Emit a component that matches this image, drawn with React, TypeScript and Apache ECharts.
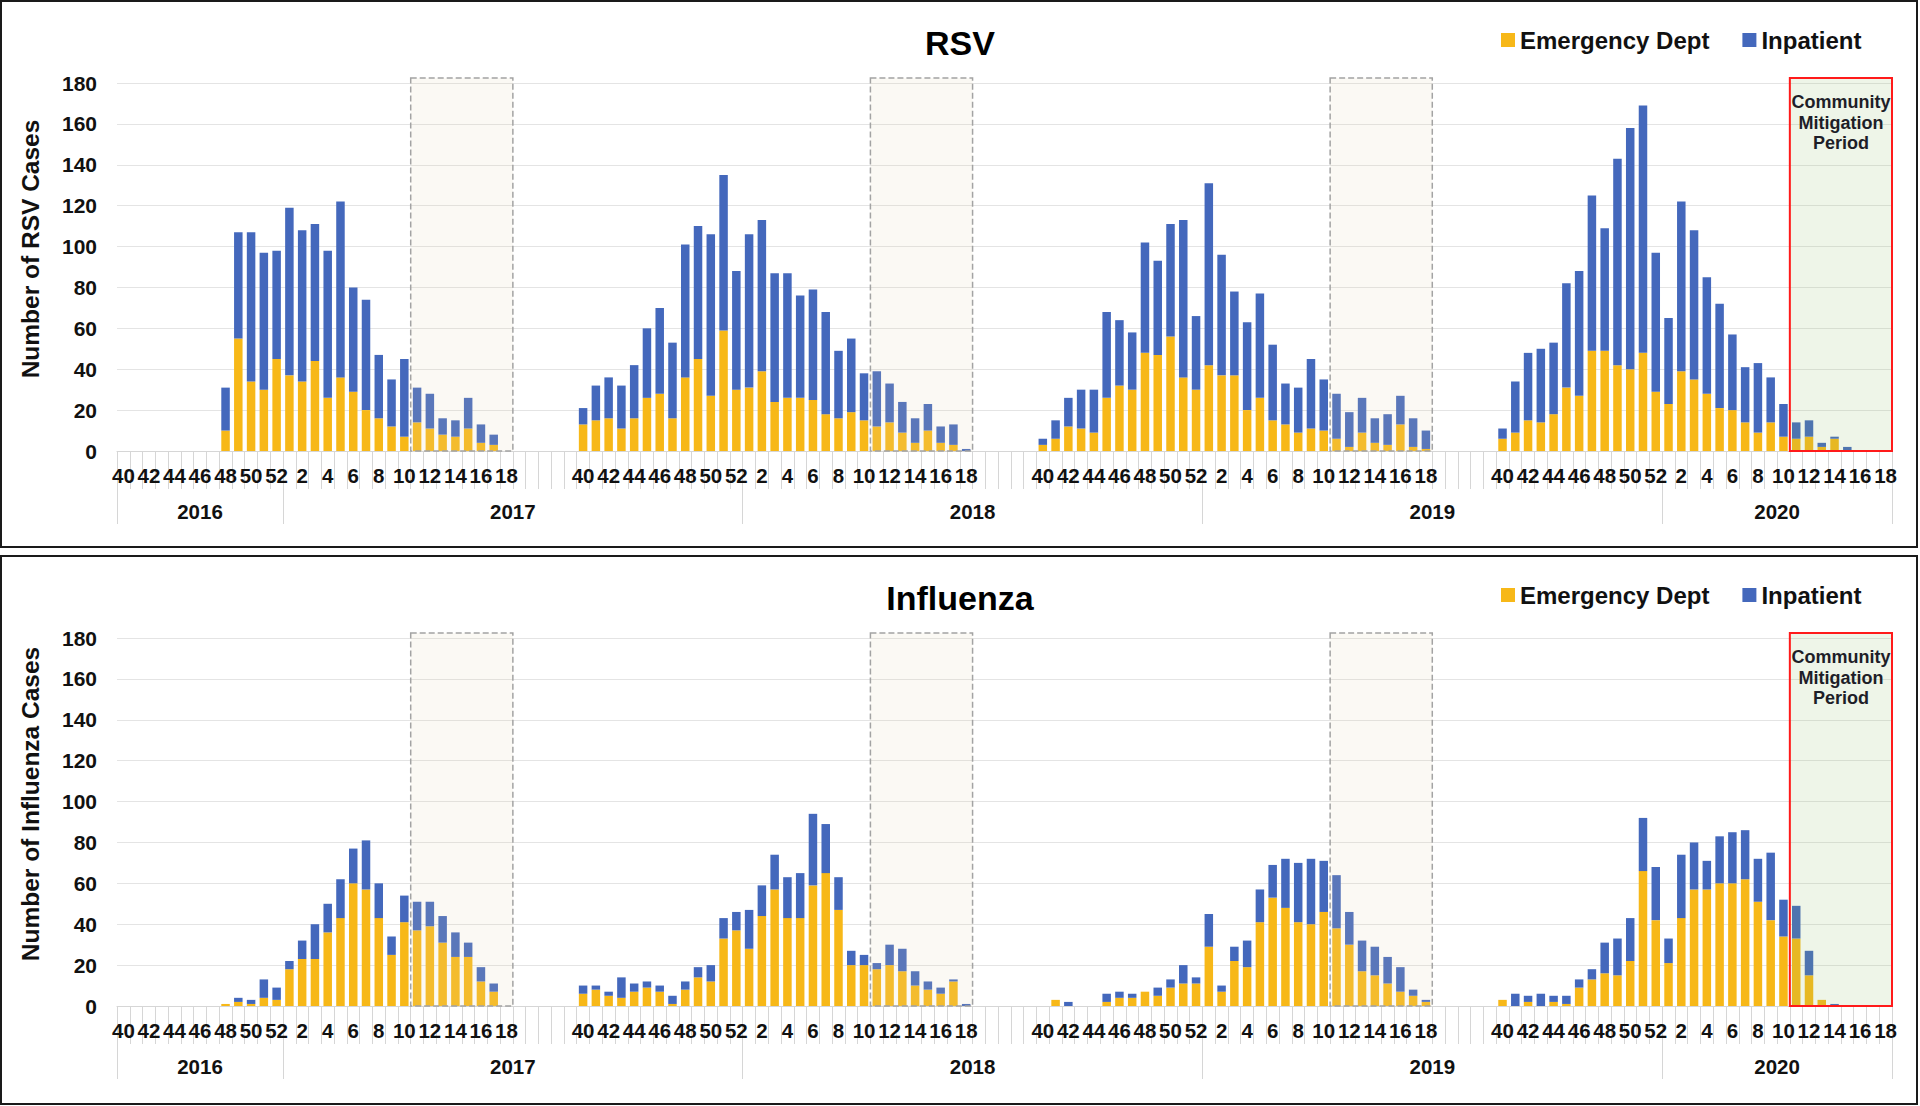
import React, { useEffect, useRef } from "react";
import * as echarts from "echarts";

const FONT = '"Liberation Sans", Arial, Helvetica, sans-serif';

// Surveillance weeks of one season (week 40 through week 18)
const seasonWeeks = [40, 41, 42, 43, 44, 45, 46, 47, 48, 49, 50, 51, 52, 1, 2, 3, 4, 5, 6, 7, 8, 9, 10, 11, 12, 13, 14, 15, 16, 17, 18];
const gapLength = 5; // empty categories between seasons
const yearLabels = ["2016", "2017", "2018", "2019", "2020"];
const seriesNames = ["Emergency Dept", "Inpatient"];
const panelTitles = ["RSV", "Influenza"];
const yAxisTitles = ["Number of RSV Cases", "Number of Influenza Cases"];
const shadedWeeks = [11, 18]; // dashed / mitigation boxes cover weeks 11-18
const mitigationText = "Community\nMitigation\nPeriod";

// RSV
const rsvED_2016_17 = [0, 0, 0, 0, 0, 0, 0, 0, 10, 55, 34, 30, 45, 37, 34, 44, 26, 36, 29, 20, 16, 12, 7, 14, 11, 8, 7, 11, 4, 3, 0];
const rsvIP_2016_17 = [0, 0, 0, 0, 0, 0, 0, 0, 21, 52, 73, 67, 53, 82, 74, 67, 72, 86, 51, 54, 31, 23, 38, 17, 17, 8, 8, 15, 9, 5, 0];
const rsvED_2017_18 = [13, 15, 16, 11, 16, 26, 28, 16, 36, 45, 27, 59, 30, 31, 39, 24, 26, 26, 25, 18, 16, 19, 15, 12, 14, 9, 4, 10, 4, 3, 0];
const rsvIP_2017_18 = [8, 17, 20, 21, 26, 34, 42, 37, 65, 65, 79, 76, 58, 75, 74, 63, 61, 50, 54, 50, 33, 36, 23, 27, 19, 15, 12, 13, 8, 10, 1];
const rsvED_2018_19 = [3, 6, 12, 11, 9, 26, 32, 30, 48, 47, 56, 36, 30, 42, 37, 37, 20, 26, 15, 13, 9, 11, 10, 6, 2, 9, 4, 3, 13, 2, 1];
const rsvIP_2018_19 = [3, 9, 14, 19, 21, 42, 32, 28, 54, 46, 55, 77, 36, 89, 59, 41, 43, 51, 37, 20, 22, 34, 25, 22, 17, 17, 12, 15, 14, 14, 9];
const rsvED_2019_20 = [6, 9, 15, 14, 18, 31, 27, 49, 49, 42, 40, 48, 29, 23, 39, 35, 28, 21, 20, 14, 9, 14, 7, 6, 7, 2, 6, 0, 0, 0, 0];
const rsvIP_2019_20 = [5, 25, 33, 36, 35, 51, 61, 76, 60, 101, 118, 121, 68, 42, 83, 73, 57, 51, 37, 27, 34, 22, 16, 8, 8, 2, 1, 2, 0, 0, 0];

// Influenza
const fluED_2016_17 = [0, 0, 0, 0, 0, 0, 0, 0, 1, 2, 1, 4, 3, 18, 23, 23, 36, 43, 60, 57, 43, 25, 41, 37, 39, 31, 24, 24, 12, 7, 0];
const fluIP_2016_17 = [0, 0, 0, 0, 0, 0, 0, 0, 0, 2, 2, 9, 6, 4, 9, 17, 14, 19, 17, 24, 17, 9, 13, 14, 12, 13, 12, 7, 7, 4, 0];
const fluED_2017_18 = [6, 8, 5, 4, 7, 9, 7, 1, 8, 14, 12, 33, 37, 28, 44, 57, 43, 43, 59, 65, 47, 20, 20, 18, 20, 17, 10, 8, 6, 12, 0];
const fluIP_2017_18 = [4, 2, 2, 10, 4, 3, 3, 4, 4, 5, 8, 10, 9, 19, 15, 17, 20, 22, 35, 24, 16, 7, 5, 3, 10, 11, 7, 4, 3, 1, 1];
const fluED_2018_19 = [0, 3, 0, 0, 0, 2, 4, 4, 7, 5, 9, 11, 11, 29, 7, 22, 19, 41, 53, 48, 41, 40, 46, 38, 30, 17, 15, 11, 7, 5, 2];
const fluIP_2018_19 = [0, 0, 2, 0, 0, 4, 3, 2, 0, 4, 4, 9, 3, 16, 3, 7, 13, 16, 16, 24, 29, 32, 25, 26, 16, 15, 14, 13, 12, 3, 1];
const fluED_2019_20 = [3, 0, 2, 0, 2, 1, 9, 13, 16, 15, 22, 66, 42, 21, 43, 57, 57, 60, 60, 62, 51, 42, 34, 33, 15, 3, 0, 0, 0, 0, 0];
const fluIP_2019_20 = [0, 6, 3, 6, 3, 4, 4, 5, 15, 18, 21, 26, 26, 12, 31, 23, 14, 23, 25, 24, 21, 33, 18, 16, 12, 0, 1, 0, 0, 0, 0];

const COLORS = { ed: "#F7B818", ip: "#4468BC" };

const seasonCount = 4;
const seasonLen = seasonWeeks.length;
const period = seasonLen + gapLength;
const totalCats = seasonCount * seasonLen + (seasonCount - 1) * gapLength;

function flatten(seasons: number[][]): (number | null)[] {
  const out: (number | null)[] = [];
  seasons.forEach((s, i) => {
    if (i > 0) for (let g = 0; g < gapLength; g++) out.push(null);
    s.forEach((v) => out.push(v));
  });
  return out;
}

// categories
const catKeys: string[] = [];
const weekText: Record<string, string> = {};
for (let c = 0; c < totalCats; c++) {
  const key = "c" + c;
  catKeys.push(key);
  const s = Math.floor(c / period);
  const k = c - s * period;
  weekText[key] = k < seasonLen && seasonWeeks[k] % 2 === 0 ? String(seasonWeeks[k]) : "";
}

// year grouping (second axis level) on half-category positions
const week1Idx = seasonWeeks.indexOf(1);
const yearStarts = [0];
for (let s = 0; s < seasonCount; s++) yearStarts.push(s * period + week1Idx);
const yearBounds = [...yearStarts, totalCats];
const halfKeys: string[] = [];
for (let h = 0; h <= totalCats * 2; h++) halfKeys.push("h" + h);
const yearTickSet = new Set(yearBounds.map((b) => b * 2));
const yearLabelAt: Record<number, string> = {};
for (let y = 0; y < yearLabels.length; y++) {
  yearLabelAt[yearBounds[y] + yearBounds[y + 1]] = yearLabels[y];
}

const boxStart = seasonWeeks.indexOf(shadedWeeks[0]);
const boxEnd = seasonWeeks.indexOf(shadedWeeks[1]);
const boxes: number[][] = [];
for (let s = 0; s < seasonCount; s++) boxes.push([s * period + boxStart, s * period + boxEnd, s === seasonCount - 1 ? 1 : 0]);

const panels = [
  {
    ed: flatten([rsvED_2016_17, rsvED_2017_18, rsvED_2018_19, rsvED_2019_20]),
    ip: flatten([rsvIP_2016_17, rsvIP_2017_18, rsvIP_2018_19, rsvIP_2019_20]),
  },
  {
    ed: flatten([fluED_2016_17, fluED_2017_18, fluED_2018_19, fluED_2019_20]),
    ip: flatten([fluIP_2016_17, fluIP_2017_18, fluIP_2018_19, fluIP_2019_20]),
  },
];

const PANEL_DY = 555;
const GRID = { left: 117, top: 83, width: 1775, height: 368 };

function renderBox(params: any, api: any) {
  const s = api.value(0);
  const e = api.value(1);
  const kind = api.value(2);
  const band = api.size([1, 0])[0];
  const x0 = api.coord([s, 0])[0] - band / 2;
  const x1 = api.coord([e, 0])[0] + band / 2;
  const yb = api.coord([s, 0])[1];
  const yt = api.coord([s, 182.5])[1];
  const children: any[] = [
    {
      type: "rect",
      shape: { x: x0, y: yt, width: x1 - x0, height: yb - yt },
      style: kind
        ? { fill: "rgba(140,190,100,0.15)", stroke: "#FF1A1A", lineWidth: 2 }
        : { fill: "rgba(225,215,175,0.14)", stroke: "#A3A3A3", lineWidth: 1.5, lineDash: [6, 3] },
    },
  ];
  if (kind) {
    children.push({
      type: "text",
      x: (x0 + x1) / 2,
      y: yt + 14,
      style: {
        text: mitigationText,
        fill: "#1E1E28",
        font: `bold 18px ${FONT}`,
        align: "center",
        textAlign: "center",
        verticalAlign: "top",
        textVerticalAlign: "top",
        lineHeight: 20.5,
      },
    });
  }
  return { type: "group", children };
}

export default function App() {
  const ref = useRef<HTMLDivElement>(null);
  useEffect(() => {
    if (!ref.current) return;
    const chart = echarts.init(ref.current, undefined, { renderer: "svg" });
    const grid: any[] = [];
    const xAxis: any[] = [];
    const yAxis: any[] = [];
    const series: any[] = [];
    const legend: any[] = [];
    const graphic: any[] = [];

    panels.forEach((p, i) => {
      const dy = i * PANEL_DY;
      grid.push({ left: GRID.left, top: GRID.top + dy, width: GRID.width, height: GRID.height, containLabel: false, outerBoundsMode: "none" });
      xAxis.push({
        type: "category",
        gridIndex: i,
        position: "bottom",
        data: catKeys,
        boundaryGap: true,
        axisLine: { show: true, onZero: false, lineStyle: { color: "#D6D6D6", width: 1 } },
        axisTick: { show: true, interval: 0, length: 38, lineStyle: { color: "#D6D6D6", width: 1 } },
        axisLabel: {
          interval: 0,
          hideOverlap: false,
          margin: 14,
          formatter: (v: string) => weekText[v] || "",
          fontSize: 20.5,
          fontWeight: "bold",
          color: "#111",
          fontFamily: FONT,
        },
        splitLine: { show: false },
      });
      xAxis.push({
        type: "category",
        gridIndex: i,
        position: "bottom",
        data: halfKeys,
        boundaryGap: false,
        axisLine: { show: false, onZero: false },
        axisTick: { show: true, length: 73, interval: (idx: number) => yearTickSet.has(idx), lineStyle: { color: "#D6D6D6", width: 1 } },
        axisLabel: {
          interval: (idx: number) => yearLabelAt[idx] !== undefined,
          hideOverlap: false,
          formatter: (v: string) => yearLabelAt[parseInt(v.slice(1), 10)] || "",
          margin: 50,
          fontSize: 20.5,
          fontWeight: "bold",
          color: "#111",
          fontFamily: FONT,
        },
        splitLine: { show: false },
      });
      yAxis.push({
        type: "value",
        gridIndex: i,
        min: 0,
        max: 180,
        interval: 20,
        axisLine: { show: false },
        axisTick: { show: false },
        axisLabel: { margin: 20, fontSize: 21, fontWeight: "bold", color: "#111", fontFamily: FONT },
        splitLine: { show: true, lineStyle: { color: "#E4E4E4", width: 1 } },
      });
      series.push({
        type: "bar",
        name: seriesNames[0],
        xAxisIndex: i * 2,
        yAxisIndex: i,
        stack: "s" + i,
        barWidth: 8.5,
        data: p.ed,
        itemStyle: { color: COLORS.ed },
      });
      series.push({
        type: "bar",
        name: seriesNames[1],
        xAxisIndex: i * 2,
        yAxisIndex: i,
        stack: "s" + i,
        barWidth: 8.5,
        data: p.ip,
        itemStyle: { color: COLORS.ip },
      });
      series.push({
        type: "custom",
        name: "boxes" + i,
        xAxisIndex: i * 2,
        yAxisIndex: i,
        data: boxes,
        renderItem: renderBox,
        clip: false,
        silent: true,
        z: 5,
      });
      legend.push({
        data: seriesNames,
        left: 1501,
        top: 28 + dy,
        padding: 0,
        itemWidth: 14,
        itemHeight: 14,
        itemGap: 33,
        icon: "rect",
        selectedMode: false,
        textStyle: { fontSize: 24, fontWeight: "bold", color: "#111", fontFamily: FONT },
      });
      graphic.push({
        type: "rect",
        shape: { x: 1, y: 1 + dy, width: 1916, height: 546 + (i === 1 ? 2 : 0) },
        style: { fill: "none", stroke: "#1A1A1A", lineWidth: 2 },
        silent: true,
      });
      graphic.push({
        type: "text",
        x: 960,
        y: 43 + dy,
        style: {
          text: panelTitles[i],
          font: `bold 34px ${FONT}`,
          fill: "#000",
          align: "center",
          textAlign: "center",
          verticalAlign: "middle",
          textVerticalAlign: "middle",
        },
      });
      graphic.push({
        type: "text",
        x: 30,
        y: 249 + dy,
        rotation: Math.PI / 2,
        style: {
          text: yAxisTitles[i],
          font: `bold 24.5px ${FONT}`,
          fill: "#111",
          align: "center",
          textAlign: "center",
          verticalAlign: "middle",
          textVerticalAlign: "middle",
        },
      });
    });

    chart.setOption({
      animation: false,
      backgroundColor: "#fff",
      grid,
      xAxis,
      yAxis,
      series,
      legend,
      graphic,
    });
    return () => chart.dispose();
  }, []);
  return <div ref={ref} style={{ position: "absolute", left: 0, top: 0, width: 1920, height: 1106 }} />;
}
